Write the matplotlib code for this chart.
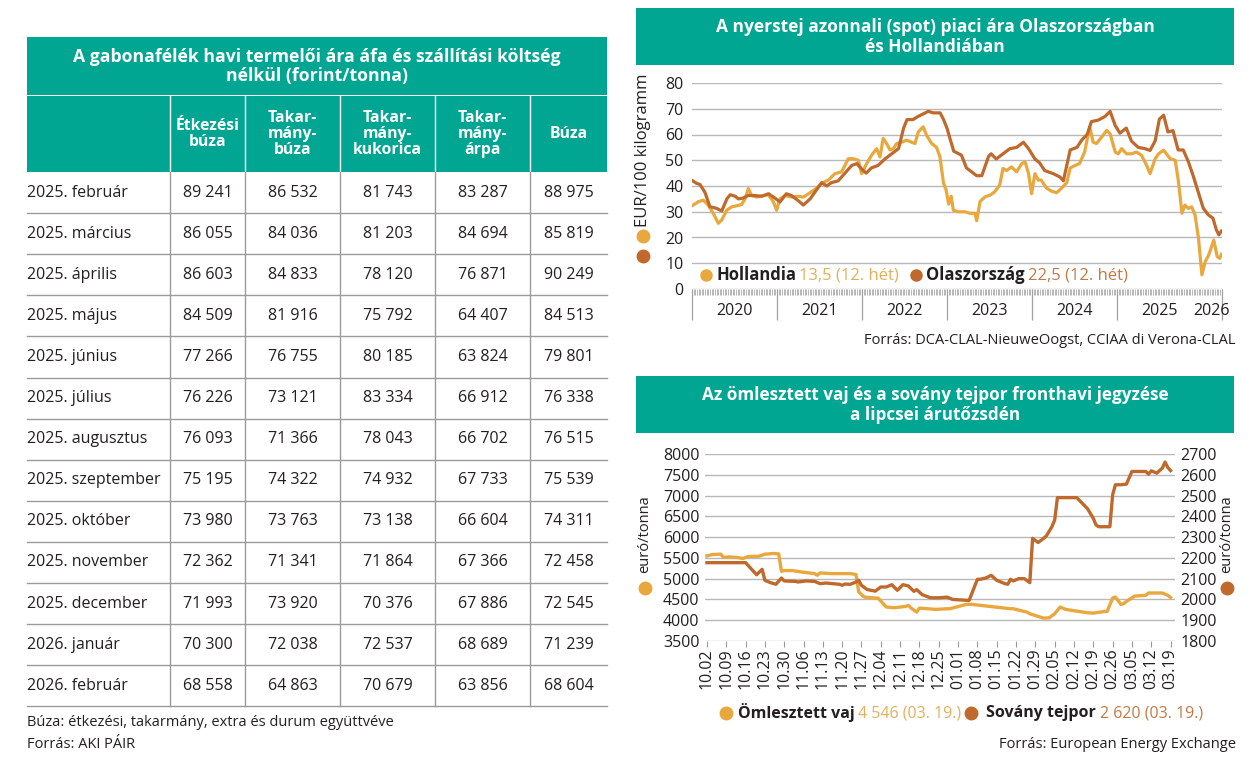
import matplotlib
matplotlib.use('Agg')
import matplotlib.pyplot as plt
from matplotlib.patches import Rectangle
import numpy as np
import pandas as pd

plt.rcParams['font.family'] = ['Open Sans', 'DejaVu Sans']

TEAL = '#00A692'
YEL = '#E8A83E'
BRN = '#BF6A2C'
YEL_T = '#E4AF5C'
BRN_T = '#C27A45'
DARK = '#231F20'
GRID = '#B8B8B8'
TLINE = '#9B9B9B'

# ---------------- table data ----------------
table_title = "A gabonafélék havi termelői ára áfa és szállítási költség\nnélkül (forint/tonna)"
col_headers = ["Étkezési\nbúza", "Takar-\nmány-\nbúza", "Takar-\nmány-\nkukorica",
               "Takar-\nmány-\nárpa", "Búza"]
months = ["2025. február", "2025. március", "2025. április", "2025. május", "2025. június",
          "2025. július", "2025. augusztus", "2025. szeptember", "2025. október",
          "2025. november", "2025. december", "2026. január", "2026. február"]
etk_buza = [89241, 86055, 86603, 84509, 77266, 76226, 76093, 75195, 73980, 72362, 71993, 70300, 68558]
tak_buza = [86532, 84036, 84833, 81916, 76755, 73121, 71366, 74322, 73763, 71341, 73920, 72038, 64863]
tak_kukorica = [81743, 81203, 78120, 75792, 80185, 83334, 78043, 74932, 73138, 71864, 70376, 72537, 70679]
tak_arpa = [83287, 84694, 76871, 64407, 63824, 66912, 66702, 67733, 66604, 67366, 67886, 68689, 63856]
buza = [88975, 85819, 90249, 84513, 79801, 76338, 76515, 75539, 74311, 72458, 72545, 71239, 68604]
table_notes = ["Búza: étkezési, takarmány, extra és durum együttvéve", "Forrás: AKI PÁIR"]

# ---------------- spot milk data (decimal year, EUR/100 kg) ----------------
spot_title = "A nyerstej azonnali (spot) piaci ára Olaszországban\nés Hollandiában"
spot_years = [2020, 2021, 2022, 2023, 2024, 2025, 2026]
nl_t = [2020.00, 2020.075, 2020.133, 2020.19, 2020.25, 2020.31, 2020.35, 2020.41, 2020.467, 2020.525,
        2020.584, 2020.624, 2020.663, 2020.702, 2020.76, 2020.84, 2020.898, 2020.957, 2020.996, 2021.035,
        2021.094, 2021.173, 2021.25, 2021.31, 2021.39, 2021.467, 2021.525, 2021.604, 2021.682, 2021.76,
        2021.84, 2021.898, 2021.957, 2021.996, 2022.055, 2022.114, 2022.173, 2022.212, 2022.25, 2022.29,
        2022.33, 2022.37, 2022.408, 2022.467, 2022.525, 2022.584, 2022.624, 2022.663, 2022.72, 2022.76,
        2022.82, 2022.878, 2022.918, 2022.96, 2022.99, 2023.02, 2023.05, 2023.075, 2023.13, 2023.21,
        2023.27, 2023.33, 2023.35, 2023.39, 2023.45, 2023.51, 2023.56, 2023.62, 2023.66, 2023.70,
        2023.76, 2023.82, 2023.88, 2023.92, 2023.96, 2023.996, 2024.035, 2024.075, 2024.11, 2024.17,
        2024.23, 2024.29, 2024.35, 2024.41, 2024.45, 2024.51, 2024.56, 2024.62, 2024.68, 2024.72,
        2024.76, 2024.82, 2024.88, 2024.92, 2024.98, 2025.016, 2025.055, 2025.114, 2025.17, 2025.23,
        2025.29, 2025.35, 2025.39, 2025.45, 2025.49, 2025.55, 2025.627, 2025.686, 2025.725, 2025.765,
        2025.80, 2025.84, 2025.88, 2025.92, 2025.96, 2026.00, 2026.04, 2026.08, 2026.14, 2026.18,
        2026.21, 2026.23]
nl_v = [32.3, 33.9, 34.5, 32.6, 29.4, 25.5, 26.8, 30.6, 31.9, 32.3,
        32.8, 35.0, 39.0, 36.3, 35.7, 36.3, 36.6, 33.9, 30.6, 35.0,
        36.3, 35.7, 36.0, 35.7, 37.4, 39.2, 41.0, 42.3, 44.8, 45.5,
        50.6, 50.6, 50.0, 44.8, 48.7, 52.0, 54.5, 51.3, 58.5, 56.5,
        54.0, 54.5, 56.5, 57.0, 57.8, 57.0, 56.5, 61.0, 63.0, 59.7,
        56.5, 55.0, 51.3, 41.0, 38.5, 33.0, 36.0, 30.6, 30.0, 30.0,
        29.4, 29.4, 26.5, 34.0, 35.8, 36.5, 37.7, 40.3, 46.8, 46.0,
        47.4, 45.5, 48.7, 49.3, 44.8, 37.0, 44.8, 42.3, 42.3, 39.2,
        38.0, 37.4, 39.2, 41.3, 47.0, 48.0, 48.7, 53.2, 63.0, 57.0,
        56.5, 59.0, 61.6, 60.3, 53.2, 52.5, 54.5, 52.5, 52.5, 53.2,
        51.9, 48.0, 44.8, 50.6, 52.5, 53.9, 50.6, 50.0, 41.6, 29.4,
        32.6, 31.3, 31.9, 28.7, 19.7, 5.5, 10.7, 13.2, 19.0, 12.6,
        11.9, 13.5]
it_t = [2020.00, 2020.055, 2020.094, 2020.153, 2020.21, 2020.29, 2020.35, 2020.41, 2020.45, 2020.51,
        2020.545, 2020.60, 2020.66, 2020.74, 2020.82, 2020.90, 2020.976, 2021.035, 2021.11, 2021.17,
        2021.25, 2021.31, 2021.39, 2021.47, 2021.525, 2021.585, 2021.64, 2021.72, 2021.80, 2021.88,
        2021.94, 2022.00, 2022.05, 2022.11, 2022.19, 2022.27, 2022.35, 2022.43, 2022.49, 2022.53,
        2022.60, 2022.66, 2022.72, 2022.78, 2022.84, 2022.92, 2022.96, 2023.00, 2023.035, 2023.08,
        2023.17, 2023.23, 2023.35, 2023.41, 2023.49, 2023.52, 2023.58, 2023.64, 2023.68, 2023.74,
        2023.82, 2023.90, 2023.96, 2024.035, 2024.09, 2024.15, 2024.25, 2024.33, 2024.37, 2024.41,
        2024.45, 2024.53, 2024.59, 2024.65, 2024.70, 2024.78, 2024.86, 2024.92, 2024.98, 2025.035,
        2025.11, 2025.17, 2025.25, 2025.33, 2025.39, 2025.45, 2025.50, 2025.55, 2025.60, 2025.66,
        2025.72, 2025.78, 2025.84, 2025.90, 2025.96, 2026.016, 2026.075, 2026.13, 2026.17, 2026.20,
        2026.23]
it_v = [42.2, 41.0, 40.6, 37.5, 32.0, 31.3, 30.3, 35.0, 36.6, 36.0,
        35.0, 35.3, 36.3, 36.3, 36.0, 37.0, 35.3, 33.8, 37.0, 36.3,
        34.3, 32.6, 35.0, 38.7, 41.3, 40.0, 41.3, 42.0, 45.0, 48.0,
        48.7, 46.5, 45.0, 47.0, 48.0, 50.5, 52.5, 54.5, 62.5, 65.8,
        65.8, 67.0, 68.0, 69.0, 68.4, 68.4, 65.8, 62.5, 58.5, 53.5,
        52.0, 47.0, 44.0, 44.0, 51.5, 52.5, 50.5, 52.0, 53.0, 54.5,
        55.0, 57.0, 54.5, 50.5, 49.0, 46.0, 44.8, 43.5, 42.0, 48.0,
        54.0, 55.0, 58.0, 60.0, 65.0, 65.6, 67.0, 69.0, 63.5, 60.5,
        62.5, 57.5, 55.0, 54.5, 53.8, 57.5, 66.0, 67.5, 61.0, 61.5,
        54.0, 54.0, 49.5, 43.7, 37.3, 31.4, 28.8, 27.5, 23.0, 21.0,
        22.5]
spot_source = "Forrás: DCA-CLAL-NieuweOogst, CCIAA di Verona-CLAL"

# ---------------- EEX butter / SMP data ----------------
eex_title = "Az ömlesztett vaj és a sovány tejpor fronthavi jegyzése\na lipcsei árutőzsdén"
eex_start = "2025-10-02"
vaj_dates = ["2025-10-02", "2025-10-04", "2025-10-07", "2025-10-08", "2025-10-10", "2025-10-13",
             "2025-10-15", "2025-10-17", "2025-10-21", "2025-10-23", "2025-10-26", "2025-10-28",
             "2025-10-29", "2025-10-30", "2025-11-02", "2025-11-05", "2025-11-10", "2025-11-11",
             "2025-11-12", "2025-11-16", "2025-11-23", "2025-11-25", "2025-11-26", "2025-11-28",
             "2025-12-02", "2025-12-03", "2025-12-06", "2025-12-09", "2025-12-13", "2025-12-14",
             "2025-12-15", "2025-12-17", "2025-12-18", "2025-12-24", "2025-12-28", "2025-12-29",
             "2026-01-04", "2026-01-06", "2026-01-20", "2026-01-21", "2026-01-26", "2026-01-27",
             "2026-02-01", "2026-02-03", "2026-02-05", "2026-02-07", "2026-02-09", "2026-02-17",
             "2026-02-19", "2026-02-23", "2026-02-24", "2026-02-26", "2026-02-27", "2026-03-01",
             "2026-03-02", "2026-03-03", "2026-03-06", "2026-03-10", "2026-03-11", "2026-03-16",
             "2026-03-18", "2026-03-19"]
vaj_values = [5549, 5581, 5590, 5510, 5525, 5510,
              5485, 5533, 5541, 5590, 5605, 5597,
              5178, 5195, 5195, 5163, 5122, 5082,
              5138, 5122, 5122, 5100, 4679, 4558,
              4534, 4534, 4317, 4300, 4333, 4357,
              4292, 4195, 4292, 4260, 4276, 4276,
              4381, 4381, 4276, 4276, 4195, 4155,
              4050, 4058, 4155, 4317, 4260, 4179,
              4171, 4211, 4211, 4534, 4558, 4381,
              4397, 4453, 4582, 4598, 4655, 4655,
              4600, 4546]
smp_dates = ["2025-10-02", "2025-10-16", "2025-10-18", "2025-10-20", "2025-10-21", "2025-10-22",
             "2025-10-23", "2025-10-25", "2025-10-27", "2025-10-29", "2025-10-30", "2025-11-03",
             "2025-11-04", "2025-11-07", "2025-11-10", "2025-11-12", "2025-11-14", "2025-11-19",
             "2025-11-20", "2025-11-21", "2025-11-23", "2025-11-25", "2025-11-26", "2025-11-27",
             "2025-11-29", "2025-12-02", "2025-12-04", "2025-12-06", "2025-12-08", "2025-12-10",
             "2025-12-12", "2025-12-14", "2025-12-16", "2025-12-17", "2025-12-19", "2025-12-22",
             "2025-12-25", "2025-12-28", "2025-12-30", "2026-01-05", "2026-01-08", "2026-01-09",
             "2026-01-11", "2026-01-13", "2026-01-15", "2026-01-18", "2026-01-19", "2026-01-20",
             "2026-01-21", "2026-01-23", "2026-01-25", "2026-01-27", "2026-01-28", "2026-01-30",
             "2026-02-01", "2026-02-02", "2026-02-04", "2026-02-05", "2026-02-06", "2026-02-13",
             "2026-02-15", "2026-02-17", "2026-02-19", "2026-02-20", "2026-02-21", "2026-02-25",
             "2026-02-26", "2026-02-27", "2026-03-01", "2026-03-03", "2026-03-05", "2026-03-10",
             "2026-03-11", "2026-03-12", "2026-03-14", "2026-03-16", "2026-03-17", "2026-03-18",
             "2026-03-19"]
smp_values = [2177, 2177, 2148, 2119, 2132, 2145,
              2092, 2081, 2073, 2103, 2089, 2087,
              2084, 2089, 2087, 2076, 2079, 2073,
              2068, 2074, 2073, 2084, 2092, 2068,
              2048, 2040, 2060, 2060, 2071, 2044,
              2071, 2065, 2039, 2047, 2023, 2008,
              2008, 2011, 2000, 1995, 2097, 2097,
              2103, 2116, 2092, 2076, 2073, 2097,
              2089, 2100, 2100, 2081, 2294, 2274,
              2294, 2306, 2350, 2382, 2490, 2490,
              2463, 2435, 2390, 2358, 2350, 2350,
              2503, 2552, 2552, 2555, 2616, 2616,
              2603, 2619, 2608, 2632, 2661, 2635,
              2620]
eex_tick_labels = ["10.02", "10.09", "10.16", "10.23", "10.30", "11.06", "11.13", "11.20", "11.27",
                   "12.04", "12.11", "12.18", "12.25", "01.01", "01.08", "01.15", "01.22", "01.29",
                   "02.05", "02.12", "02.19", "02.26", "03.05", "03.12", "03.19"]
eex_source = "Forrás: European Energy Exchange"

# ---------------- figure ----------------
W, H = 1260, 770
fig = plt.figure(figsize=(W / 100, H / 100), dpi=100)
fig.patch.set_facecolor('white')


def rect(x0, y0, x1, y1):
    return [x0 / W, 1 - y1 / H, (x1 - x0) / W, (y1 - y0) / H]


bg = fig.add_axes([0, 0, 1, 1])
bg.set_xlim(0, W)
bg.set_ylim(H, 0)
bg.axis('off')


def chain(ax, x, y, pieces, fs):
    prev = None
    for s, color, weight, gap in pieces:
        if prev is None:
            prev = ax.text(x, y, s, transform=bg.transData, color=color, fontweight=weight,
                           fontsize=fs, ha='left', va='center', clip_on=False, zorder=10)
        else:
            prev = ax.annotate(s, xy=(1, 0.5), xycoords=prev, xytext=(gap, 0),
                               textcoords='offset points', color=color, fontweight=weight,
                               fontsize=fs, ha='left', va='center', annotation_clip=False, zorder=10)
    return prev


# ---------------- table ----------------
tx0, tx1 = 27, 607
col_edges = [27, 170, 245, 340, 435, 530, 607]
bg.add_patch(Rectangle((tx0, 37), tx1 - tx0, 58, color=TEAL, lw=0))
bg.add_patch(Rectangle((tx0, 96), tx1 - tx0, 76, color=TEAL, lw=0))
bg.text((tx0 + tx1) / 2, 66.5, table_title, ha='center', va='center', color='white',
        fontweight='bold', fontsize=12.7, linespacing=1.1)
for xe in col_edges[1:-1]:
    bg.plot([xe, xe], [96, 172], color='white', lw=1)
for j, h in enumerate(col_headers):
    xc = (col_edges[j + 1] + col_edges[j + 2]) / 2
    bg.text(xc, 134, h, ha='center', va='center', color='white', fontweight='bold',
            fontsize=11.3, linespacing=1.0)

row_h = 41.1
row_top = 172
cols = [etk_buza, tak_buza, tak_kukorica, tak_arpa, buza]


def fmt(v):
    return f"{v:,}".replace(",", " ")


for i, m in enumerate(months):
    yc = row_top + row_h * i + row_h / 2
    bg.text(tx0, yc, m, ha='left', va='center', color=DARK, fontsize=11.5)
    for j, col in enumerate(cols):
        xc = (col_edges[j + 1] + col_edges[j + 2]) / 2
        bg.text(xc, yc, fmt(col[i]), ha='center', va='center', color=DARK, fontsize=11.5)
    yl = row_top + row_h * (i + 1)
    bg.plot([tx0, tx1], [yl, yl], color=TLINE, lw=1)
for xe in col_edges[1:-1]:
    bg.plot([xe, xe], [row_top, row_top + row_h * len(months)], color=TLINE, lw=1)
bg.text(tx0, 723, table_notes[0], ha='left', va='center', color=DARK, fontsize=10.5)
bg.text(tx0, 744, table_notes[1], ha='left', va='center', color=DARK, fontsize=10.5)

# ---------------- spot chart ----------------
bg.add_patch(Rectangle((636, 8), 598, 57, color=TEAL, lw=0))
bg.text(935, 37, spot_title, ha='center', va='center', color='white', fontweight='bold',
        fontsize=12.5, linespacing=1.1)

ax1 = fig.add_axes(rect(692, 83, 1222, 289))
ax1.set_facecolor('none')
x_end = 2026 + 12.3 / 52
ax1.set_xlim(2020, x_end)
ax1.set_ylim(0, 80)
ax1.set_yticks(np.arange(0, 81, 10))
ax1.yaxis.grid(True, color=GRID, lw=1)
ax1.set_axisbelow(True)
for s in ax1.spines.values():
    s.set_visible(False)
ax1.tick_params(axis='y', length=0, pad=6, labelsize=11.5, labelcolor=DARK)
ax1.set_xticks([])
ax1.set_xticks(np.arange(2020, x_end, 1 / 52), minor=True)
ax1.tick_params(axis='x', which='minor', length=4.5, width=0.5, color='#999999', pad=0)
ax1.plot(nl_t, nl_v, color=YEL, lw=2.3, solid_joinstyle='round', zorder=3)
ax1.plot(it_t, it_v, color=BRN, lw=2.3, solid_joinstyle='round', zorder=4)
sep = list(spot_years[:-1]) + [x_end]
ax1.vlines(sep, -12, 0, color='#A0A0A0', lw=0.9, clip_on=False)
for k, yr in enumerate(spot_years):
    xc = yr + 0.5 if yr < 2026 else (yr + x_end) / 2
    ax1.text(xc, -8.6, str(yr), ha='center', va='center', fontsize=11.5, color=DARK, clip_on=False)

# legend
ax1.plot([706], [275], 'o', ms=8, color=YEL, transform=bg.transData, clip_on=False, zorder=10)
chain(ax1, 716, 275, [("Hollandia", DARK, 'bold', 0), ("13,5 (12. hét)", YEL_T, 'normal', 2.5)], 12)
ax1.plot([916], [275], 'o', ms=8, color=BRN, transform=bg.transData, clip_on=False, zorder=10)
chain(ax1, 926, 275, [("Olaszország", DARK, 'bold', 0), ("22,5 (12. hét)", BRN_T, 'normal', 2.5)], 12)

bg.text(643, 150, "EUR/100 kilogramm", rotation=90, ha='center', va='center', fontsize=12, color=DARK)
bg.plot([643], [236], 'o', ms=9, color=YEL)
bg.plot([643], [256], 'o', ms=9, color=BRN)
bg.text(1236, 341, spot_source, ha='right', va='center', fontsize=10.5, color=DARK)

# ---------------- EEX chart ----------------
bg.add_patch(Rectangle((636, 376), 598, 57, color=TEAL, lw=0))
bg.text(935, 405, eex_title, ha='center', va='center', color='white', fontweight='bold',
        fontsize=12.3, linespacing=1.1)

t0 = pd.Timestamp(eex_start)
vaj_x = (pd.to_datetime(vaj_dates) - t0).days.values
smp_x = (pd.to_datetime(smp_dates) - t0).days.values

ax2 = fig.add_axes(rect(705, 454, 1175, 641))
ax2.set_facecolor('none')
ax2.set_xlim(-0.7, 169.6)
ax2.set_ylim(3500, 8000)
ax2.set_yticks(np.arange(3500, 8001, 500))
ax2.yaxis.grid(True, color=GRID, lw=1)
ax2.set_axisbelow(True)
for s in ax2.spines.values():
    s.set_visible(False)
ax2.tick_params(axis='y', length=0, pad=4, labelsize=11.5, labelcolor=DARK)
ax2.set_xticks(np.arange(0, 7 * len(eex_tick_labels), 7))
ax2.set_xticklabels(eex_tick_labels, rotation=90, fontsize=11.5, color=DARK)
ax2.tick_params(axis='x', length=4, width=0.8, color='#999999', pad=1.5)
ax2.plot(vaj_x, vaj_values, color=YEL, lw=2.4, solid_joinstyle='round', zorder=3)

ax3 = ax2.twinx()
ax3.set_facecolor('none')
ax3.set_ylim(1800, 2700)
ax3.set_yticks(np.arange(1800, 2701, 100))
for s in ax3.spines.values():
    s.set_visible(False)
ax3.tick_params(axis='y', length=0, pad=4, labelsize=11.5, labelcolor=DARK)
ax3.plot(smp_x, smp_values, color=BRN, lw=2.4, solid_joinstyle='round', zorder=4)

bg.text(645, 534, "euró/tonna", rotation=90, ha='center', va='center', fontsize=10.5, color=DARK)
bg.plot([645], [588], 'o', ms=9, color=YEL)
bg.text(1227, 534, "euró/tonna", rotation=90, ha='center', va='center', fontsize=10.5, color=DARK)
bg.plot([1227], [588], 'o', ms=9, color=BRN)

bg.plot([726], [713], 'o', ms=9, color=YEL)
chain(bg, 738, 713, [("Ömlesztett vaj", DARK, 'bold', 0), ("4 546 (03. 19.)", YEL_T, 'normal', 2)], 11.5)
bg.plot([971], [713], 'o', ms=9, color=BRN)
chain(bg, 986, 713, [("Sovány tejpor", DARK, 'bold', 0), ("2 620 (03. 19.)", BRN_T, 'normal', 3)], 11.5)
bg.text(1236, 745, eex_source, ha='right', va='center', fontsize=10.5, color=DARK)

fig.savefig('out.png', dpi=100, facecolor='white')
